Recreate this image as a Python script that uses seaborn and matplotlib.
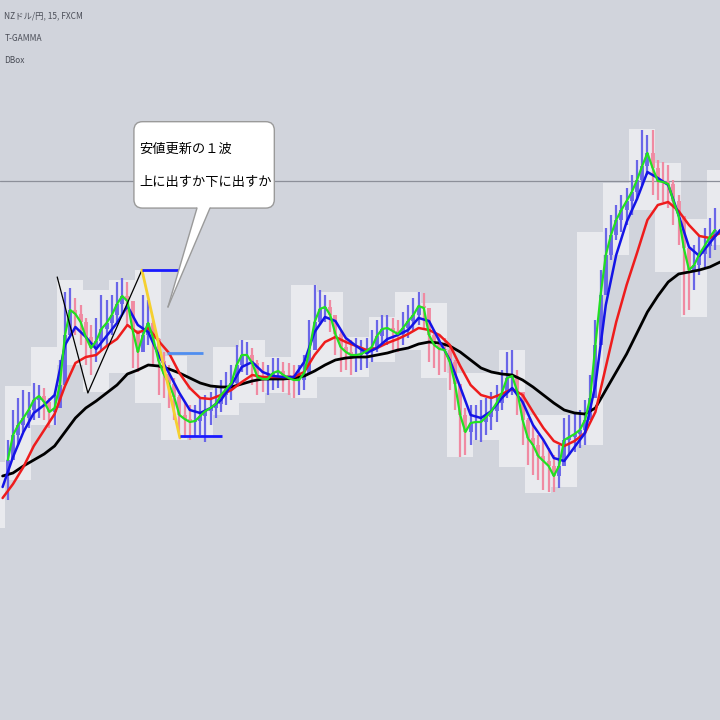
import matplotlib
matplotlib.use("Agg")
import matplotlib.pyplot as plt
import numpy as np
import pandas as pd
import seaborn as sns
from matplotlib.patches import FancyBboxPatch, Polygon

# NZD/JPY 15-minute candles, one entry per bar slot
closes = [
    86.60, 86.85, 86.95, 87.02, 87.10, 87.20, 87.24, 87.18, 87.08, 87.12,
    87.35, 87.85, 88.10, 88.06, 87.98, 87.83, 87.72, 87.79, 87.91, 87.97,
    88.05, 88.16, 88.24, 88.19, 87.90, 87.68, 87.85, 87.97, 87.81, 87.59,
    87.46, 87.36, 87.23, 87.05, 87.01, 86.98, 86.99, 87.04, 87.09, 87.12,
    87.16, 87.25, 87.31, 87.37, 87.55, 87.65, 87.65, 87.57, 87.43, 87.41,
    87.41, 87.47, 87.49, 87.45, 87.42, 87.40, 87.40, 87.47, 87.70, 87.98,
    88.11, 88.13, 88.05, 87.86, 87.73, 87.68, 87.65, 87.65, 87.66, 87.69,
    87.73, 87.84, 87.91, 87.92, 87.89, 87.86, 87.92, 87.99, 88.05, 88.14,
    88.12, 87.85, 87.75, 87.71, 87.70, 87.58, 87.36, 87.05, 86.88, 86.97,
    86.98, 86.98, 87.03, 87.09, 87.17, 87.27, 87.42, 87.44, 87.28, 87.00,
    86.82, 86.75, 86.64, 86.59, 86.54, 86.44, 86.54, 86.80, 86.83, 86.86,
    86.90, 87.00, 87.22, 87.75, 88.25, 88.65, 88.85, 89.00, 89.10, 89.19,
    89.28, 89.40, 89.54, 89.67, 89.52, 89.39, 89.38, 89.36, 89.19, 89.04,
    88.72, 88.50, 88.55, 88.66, 88.74, 88.83, 88.90,
]
highs = [
    86.80, 87.10, 87.22, 87.30, 87.28, 87.37, 87.35, 87.32, 87.22, 87.25,
    87.60, 88.28, 88.32, 88.22, 88.15, 88.02, 87.95, 88.02, 88.25, 88.20,
    88.25, 88.38, 88.42, 88.38, 88.10, 87.90, 88.25, 88.20, 88.00, 87.82,
    87.68, 87.55, 87.42, 87.25, 87.18, 87.15, 87.15, 87.22, 87.25, 87.28,
    87.32, 87.40, 87.48, 87.55, 87.75, 87.80, 87.78, 87.72, 87.60, 87.58,
    87.55, 87.62, 87.62, 87.58, 87.57, 87.55, 87.55, 87.65, 88.00, 88.35,
    88.30, 88.25, 88.20, 88.02, 87.90, 87.82, 87.80, 87.82, 87.80, 87.82,
    87.90, 88.00, 88.05, 88.05, 88.02, 88.00, 88.08, 88.15, 88.22, 88.28,
    88.27, 88.05, 87.90, 87.85, 87.82, 87.75, 87.60, 87.30, 87.12, 87.15,
    87.15, 87.20, 87.22, 87.28, 87.35, 87.50, 87.68, 87.70, 87.50, 87.25,
    87.02, 86.95, 86.85, 86.80, 86.72, 86.65, 86.75, 87.02, 87.05, 87.08,
    87.10, 87.20, 87.45, 88.00, 88.50, 88.92, 89.05, 89.15, 89.25, 89.32,
    89.45, 89.60, 89.90, 89.85, 89.90, 89.60, 89.58, 89.55, 89.40, 89.25,
    88.95, 88.70, 88.75, 88.85, 88.92, 89.02, 89.12,
]
lows = [
    86.20, 86.65, 86.75, 86.88, 86.92, 87.00, 87.02, 87.00, 86.92, 86.95,
    87.18, 87.60, 87.90, 87.85, 87.75, 87.55, 87.45, 87.58, 87.70, 87.75,
    87.85, 87.98, 88.05, 87.95, 87.52, 87.48, 87.68, 87.75, 87.55, 87.25,
    87.22, 87.12, 87.00, 86.88, 86.82, 86.80, 86.84, 86.85, 86.78, 86.95,
    87.02, 87.08, 87.15, 87.20, 87.35, 87.48, 87.45, 87.35, 87.25, 87.28,
    87.25, 87.30, 87.32, 87.28, 87.25, 87.22, 87.25, 87.30, 87.48, 87.75,
    87.95, 87.98, 87.88, 87.65, 87.48, 87.50, 87.45, 87.48, 87.50, 87.52,
    87.58, 87.68, 87.75, 87.75, 87.70, 87.68, 87.75, 87.82, 87.88, 87.95,
    87.90, 87.58, 87.52, 87.45, 87.48, 87.30, 87.10, 86.63, 86.65, 86.75,
    86.80, 86.78, 86.85, 86.90, 86.98, 87.10, 87.22, 87.25, 87.05, 86.75,
    86.55, 86.45, 86.40, 86.30, 86.28, 86.28, 86.32, 86.58, 86.65, 86.68,
    86.72, 86.75, 87.00, 87.40, 87.90, 88.35, 88.60, 88.80, 88.88, 88.95,
    89.05, 89.20, 89.35, 89.45, 89.25, 89.20, 89.18, 89.12, 88.95, 88.75,
    88.05, 88.10, 88.30, 88.45, 88.52, 88.62, 88.70,
]
first_open = 86.45

# moving averages, read every second bar starting one bar before the first candle
ma_fast = [
    86.33, 86.63, 86.88, 87.07, 87.15, 87.25, 87.75, 87.93, 87.83, 87.71,
    87.84, 87.97, 88.14, 87.95, 87.88, 87.65, 87.47, 87.27, 87.10, 87.07,
    87.12, 87.20, 87.35, 87.53, 87.58, 87.48, 87.44, 87.43, 87.43, 87.58,
    87.88, 88.03, 87.99, 87.82, 87.74, 87.67, 87.72, 87.81, 87.85, 87.90,
    88.02, 87.99, 87.79, 87.60, 87.33, 87.05, 87.02, 87.09, 87.22, 87.32,
    87.18, 86.95, 86.80, 86.62, 86.59, 86.73, 86.87, 87.35, 88.15, 88.65,
    88.98, 89.21, 89.48, 89.42, 89.35, 89.05, 88.73, 88.64, 88.77, 88.90,
]
ma_mid = [
    86.22, 86.36, 86.53, 86.74, 86.90, 87.06, 87.34, 87.57, 87.63, 87.65,
    87.74, 87.81, 87.95, 87.87, 87.92, 87.79, 87.67, 87.47, 87.32, 87.22,
    87.21, 87.25, 87.30, 87.38, 87.45, 87.43, 87.43, 87.43, 87.43, 87.48,
    87.65, 87.78, 87.83, 87.78, 87.74, 87.70, 87.72, 87.77, 87.81, 87.86,
    87.92, 87.90, 87.85, 87.75, 87.54, 87.35, 87.25, 87.22, 87.26, 87.31,
    87.25, 87.08, 86.92, 86.79, 86.74, 86.79, 86.87, 87.08, 87.53, 87.98,
    88.35, 88.67, 89.00, 89.15, 89.18, 89.09, 88.95, 88.84, 88.82, 88.87,
]
ma_slow = [
    86.44, 86.47, 86.54, 86.60, 86.66, 86.74, 86.88, 87.02, 87.12, 87.19,
    87.27, 87.35, 87.46, 87.50, 87.55, 87.54, 87.51, 87.47, 87.42, 87.37,
    87.34, 87.33, 87.33, 87.36, 87.39, 87.41, 87.41, 87.41, 87.42, 87.44,
    87.49, 87.55, 87.60, 87.62, 87.63, 87.63, 87.65, 87.67, 87.70, 87.72,
    87.76, 87.78, 87.77, 87.74, 87.68, 87.60, 87.52, 87.48, 87.46, 87.45,
    87.40, 87.33, 87.25, 87.17, 87.10, 87.07, 87.06, 87.12, 87.30, 87.48,
    87.66, 87.87, 88.08, 88.24, 88.38, 88.46, 88.48, 88.50, 88.53, 88.58,
]

# DBox ranges: five bars per box, the first one mostly off-screen
box_high = [86.58, 87.34, 87.73, 88.40, 88.30, 88.40, 88.50, 87.64, 87.30, 87.73,
            87.80, 87.63, 88.35, 88.28, 87.83, 88.03, 88.28, 88.17, 87.47, 87.47,
            87.70, 87.05, 87.05, 88.88, 89.37, 89.91, 89.57, 89.01, 89.50]
box_low = [85.92, 86.40, 86.95, 87.55, 87.28, 87.47, 87.17, 86.80, 86.82, 87.05,
           87.17, 87.27, 87.22, 87.43, 87.43, 87.58, 87.70, 87.42, 86.63, 86.80,
           86.53, 86.27, 86.33, 86.75, 88.65, 89.10, 88.48, 88.03, 88.75]

# hand-drawn analysis
zigzag_bar = [9.5, 15.4, 25.8]
zigzag_price = [88.43, 87.27, 88.50]
fall_bar = [25.8, 33.1]
fall_price = [88.50, 86.82]
level_price = [88.50, 87.67, 86.84]
level_start = [25.8, 30.6, 33.1]
level_end = [33.1, 37.5, 41.2]
ref_price = 89.39

header = ["NZドル/円, 15, FXCM", "T-GAMMA", "DBox"]
callout = "安値更新の１波\n上に出すか下に出すか"

BG = "#d1d4dc"
sns.set_style("white", rc={"axes.facecolor": BG, "figure.facecolor": BG})
plt.rcParams["font.family"] = ["Noto Sans CJK JP", "DejaVu Sans"]

df = pd.DataFrame({"bar": np.arange(len(closes)), "close": closes, "high": highs, "low": lows})
df["open"] = df["close"].shift(1).fillna(first_open)
df["top"] = df[["high", "open", "close"]].max(axis=1)
df["bottom"] = df[["low", "open", "close"]].min(axis=1)
up = df["close"] >= df["open"]

fig = plt.figure(figsize=(7.2, 7.2), dpi=100)
ax = fig.add_axes([0, 0, 1, 1])

# boxes
bars_per_box = 5
box_start = [bars_per_box * (k - 1) - 0.5 for k in range(len(box_high))]
ax.bar(box_start, np.subtract(box_high, box_low), bottom=box_low, width=bars_per_box,
       align="edge", color="#e9eaee", linewidth=0, zorder=1)

ax.axhline(ref_price, color="#8c8f99", lw=0.9, zorder=1.5)

# candles
for mask, col in [(up, "#6a66e8"), (~up, "#f08aa2")]:
    sub = df[mask]
    ax.vlines(sub["bar"], sub["bottom"], sub["top"], color=col, lw=1.6, zorder=2)
    ax.vlines(sub["bar"], sub["open"], sub["close"], color=col, lw=2.8, zorder=2)

# moving averages
ma_bar = np.arange(-1, 2 * len(ma_slow) - 1, 2)
sns.lineplot(x=ma_bar, y=ma_slow, color="black", lw=2.0, ax=ax, zorder=3)
sns.lineplot(x=ma_bar, y=ma_mid, color="#ee1c1c", lw=1.8, ax=ax, zorder=3)
sns.lineplot(x=ma_bar, y=ma_fast, color="#1414e6", lw=1.8, ax=ax, zorder=3)
sns.lineplot(data=df, x="bar", y="close", color="#22e022", lw=1.6, ax=ax, zorder=3)

# drawings
ax.plot(zigzag_bar, zigzag_price, color="black", lw=0.9, zorder=4)
ax.plot(fall_bar, fall_price, color="#f5d030", lw=2.0, zorder=4)
for p, x0, x1, c in zip(level_price, level_start, level_end, ["#1a1aff", "#4f8ef0", "#1a1aff"]):
    ax.hlines(p, x0, x1, color=c, lw=2.0, zorder=4)

ax.set_xlim(-1.5, 720 / 5.2 - 1.5)
ax.set_ylim(84.0, 91.2)
ax.set_axis_off()

# callout bubble
bubble = FancyBboxPatch((0.186, 0.711), 0.195, 0.120,
                        boxstyle="round,pad=0,rounding_size=0.012",
                        transform=ax.transAxes, fc="white", ec="#9a9a9a", lw=1.0, zorder=10)
ax.add_patch(bubble)
tail = [(0.2736, 0.7111), (0.2736, 0.716), (0.2917, 0.716), (0.2917, 0.7111), (0.2333, 0.5736)]
ax.add_patch(Polygon(tail, closed=True, transform=ax.transAxes, fc="white", ec="none", zorder=11))
for bx in (0.2736, 0.2917):
    ax.plot([bx, 0.2333], [0.7111, 0.5736], transform=ax.transAxes, color="#9a9a9a", lw=1.0, zorder=12)
ax.text(0.194, 0.770, callout, transform=ax.transAxes, fontsize=9.5, ha="left", va="center",
        linespacing=3.0, color="black", zorder=13)

for i, line in enumerate(header):
    ax.text(0.006, 0.978 - i * 0.031, line, transform=ax.transAxes, fontsize=6,
            ha="left", va="center", color="#4a4d57")

fig.savefig("out.png", dpi=100)
